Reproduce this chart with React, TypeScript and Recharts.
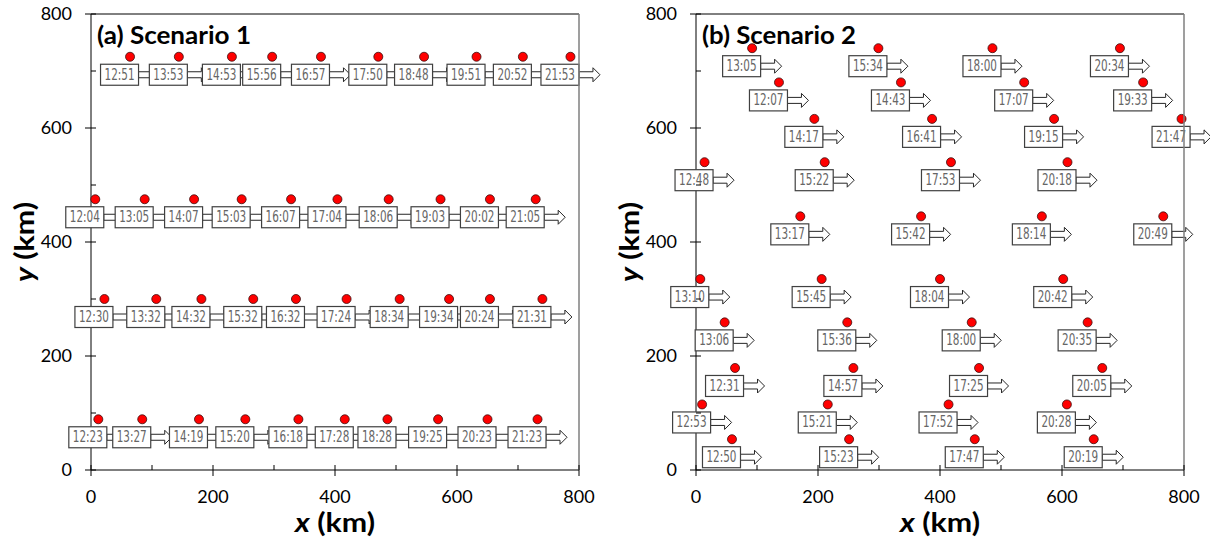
import React from 'react';
import { ScatterChart, Scatter, XAxis, YAxis } from 'recharts';

// scenario 1: four tracks, ten passes each
const S1_X = [
    64, 144, 231, 297, 377, 471, 546, 632, 708, 786,
    7, 88, 169, 247, 328, 404, 488, 573, 654, 729,
    22, 107, 181, 266, 336, 419, 506, 587, 654, 740,
    12, 84, 177, 253, 340, 416, 486, 569, 650, 732,
];
const S1_Y = [
    725, 725, 725, 725, 725, 725, 725, 725, 725, 725,
    475, 475, 475, 475, 475, 475, 475, 475, 475, 475,
    300, 300, 300, 300, 300, 300, 300, 300, 300, 300,
    89, 89, 89, 89, 89, 89, 89, 89, 89, 89,
];
const S1_TIME = [
    '12:51', '13:53', '14:53', '15:56', '16:57', '17:50', '18:48', '19:51', '20:52', '21:53',
    '12:04', '13:05', '14:07', '15:03', '16:07', '17:04', '18:06', '19:03', '20:02', '21:05',
    '12:30', '13:32', '14:32', '15:32', '16:32', '17:24', '18:34', '19:34', '20:24', '21:31',
    '12:23', '13:27', '14:19', '15:20', '16:18', '17:28', '18:28', '19:25', '20:23', '21:23',
];

// scenario 2: scattered passes
const S2_X = [
    92, 299, 486, 695,
    136, 336, 538, 733,
    194, 387, 587, 796,
    14, 211, 418, 609,
    171, 369, 567, 766,
    7, 206, 400, 602,
    47, 248, 452, 642,
    64, 258, 464, 666,
    10, 216, 414, 608,
    59, 251, 457, 652,
];
const S2_Y = [
    740, 740, 740, 740,
    680, 680, 680, 680,
    616, 616, 616, 616,
    540, 540, 540, 540,
    445, 445, 445, 445,
    335, 335, 335, 335,
    259, 259, 259, 259,
    179, 179, 179, 179,
    115, 115, 115, 115,
    54, 54, 54, 54,
];
const S2_TIME = [
    '13:05', '15:34', '18:00', '20:34',
    '12:07', '14:43', '17:07', '19:33',
    '14:17', '16:41', '19:15', '21:47',
    '12:48', '15:22', '17:53', '20:18',
    '13:17', '15:42', '18:14', '20:49',
    '13:10', '15:45', '18:04', '20:42',
    '13:06', '15:36', '18:00', '20:35',
    '12:31', '14:57', '17:25', '20:05',
    '12:53', '15:21', '17:52', '20:28',
    '12:50', '15:23', '17:47', '20:19',
];

const TICKS = [0, 100, 200, 300, 400, 500, 600, 700, 800];

// plot frame (left + top under the boxes, right edge over them)
const FRAME_LEFT_TOP = [{ x: 0, y: 0 }, { x: 0, y: 800 }, { x: 800, y: 800 }];
const FRAME_RIGHT = [{ x: 800, y: 0 }, { x: 800, y: 800 }];

const build = (xs: number[], ys: number[], ts: string[]) =>
    xs.map((x, i) => ({ x, y: ys[i], t: ts[i] }));

const data1 = build(S1_X, S1_Y, S1_TIME);
const data2 = build(S2_X, S2_Y, S2_TIME);

const FONT = 'Lato, Carlito, "Open Sans", sans-serif';
const NARROW = '"Liberation Sans Narrow", "DejaVu Sans Condensed", "Roboto", sans-serif';

const NoDot = () => <g />;

// dot + time box + direction arrow
const Mark = (props: any) => {
    const { cx, cy, payload } = props;
    if (cx == null || cy == null) return null;
    const bx = cx + 8.5;
    const my = cy + 18;
    const arrow = `${bx},${my - 3} ${bx + 14},${my - 3} ${bx + 14},${my - 7} ${bx + 21},${my} ${bx + 14},${my + 7} ${bx + 14},${my + 3} ${bx},${my + 3}`;
    return (
        <g>
            <polygon points={arrow} fill="#fff" stroke="#262626" strokeWidth={1} />
            <rect x={cx - 29.5} y={cy + 7.5} width={38} height={21} fill="#fff" stroke="#404040" strokeWidth={1.2} />
            <text
                x={cx - 10.5}
                y={my + 5}
                textAnchor="middle"
                fontSize={15}
                fontFamily={NARROW}
                fill="#666"
                textLength={30}
                lengthAdjust="spacingAndGlyphs"
            >
                {payload.t}
            </text>
            <circle cx={cx} cy={cy} r={4.5} fill="#ff0000" stroke="#3a1010" strokeWidth={0.8} />
        </g>
    );
};

const XTick = (props: any) => {
    const { x, y, payload } = props;
    const major = payload.value % 200 === 0;
    return (
        <g>
            <line x1={x} x2={x} y1={y - 5} y2={major ? y + 6 : y} stroke="#000" strokeWidth={1} />
            {major && (
                <text x={x} y={y + 33} textAnchor="middle" fontSize={18} fontFamily={FONT} fill="#000">
                    {payload.value}
                </text>
            )}
        </g>
    );
};

const YTick = (props: any) => {
    const { x, y, payload } = props;
    const major = payload.value % 200 === 0;
    return (
        <g>
            <line x1={major ? x - 6 : x} x2={x + 5} y1={y} y2={y} stroke="#000" strokeWidth={1} />
            {major && (
                <text x={x - 19} y={y + 6} textAnchor="end" fontSize={18} fontFamily={FONT} fill="#000">
                    {payload.value}
                </text>
            )}
        </g>
    );
};

const XTitle = (props: any) => {
    const vb = props.viewBox || {};
    return (
        <text x={vb.x + vb.width / 2} y={vb.y + 62} textAnchor="middle" fontSize={26} fontWeight={700} fontFamily={FONT} fill="#000" textLength={80} lengthAdjust="spacingAndGlyphs">
            <tspan fontStyle="italic">x</tspan> (km)
        </text>
    );
};

const YTitle = (props: any) => {
    const vb = props.viewBox || {};
    const cx = 34;
    const cy = vb.y + vb.height / 2;
    return (
        <text x={cx} y={cy} transform={`rotate(-90 ${cx} ${cy})`} textAnchor="middle" fontSize={26} fontWeight={700} fontFamily={FONT} fill="#000" textLength={80} lengthAdjust="spacingAndGlyphs">
            <tspan fontStyle="italic">y</tspan> (km)
        </text>
    );
};

const Panel = ({ data, title }: { data: any[]; title: string }) => (
    <ScatterChart width={605} height={541} margin={{ top: 14, right: 26, bottom: 0, left: 0 }}>
        <XAxis
            type="number"
            dataKey="x"
            domain={[0, 800]}
            ticks={TICKS}
            interval={0}
            height={71}
            tickSize={0}
            tickMargin={0}
            tickLine={false}
            tick={<XTick />}
            axisLine={{ stroke: '#000', strokeWidth: 1 }}
            label={<XTitle />}
        />
        <YAxis
            type="number"
            dataKey="y"
            domain={[0, 800]}
            ticks={TICKS}
            interval={0}
            width={91}
            tickSize={0}
            tickMargin={0}
            tickLine={false}
            tick={<YTick />}
            axisLine={false}
            label={<YTitle />}
        />
        <Scatter data={FRAME_LEFT_TOP} line={{ stroke: '#000', strokeWidth: 1 }} shape={<NoDot />} isAnimationActive={false} />
        <Scatter data={data} shape={<Mark />} isAnimationActive={false} />
        <Scatter data={FRAME_RIGHT} line={{ stroke: '#7f7f7f', strokeWidth: 1.5 }} shape={<NoDot />} isAnimationActive={false} />
        <text x={97} y={44} fontSize={25} fontWeight={700} fontFamily={FONT} fill="#000" textLength={154} lengthAdjust="spacingAndGlyphs">
            {title}
        </text>
    </ScatterChart>
);

export default function App() {
    return (
        <div style={{ position: 'absolute', left: 0, top: 0, width: 1211, height: 541, display: 'flex', background: '#fff' }}>
            <Panel data={data1} title="(a) Scenario 1" />
            <Panel data={data2} title="(b) Scenario 2" />
        </div>
    );
}
